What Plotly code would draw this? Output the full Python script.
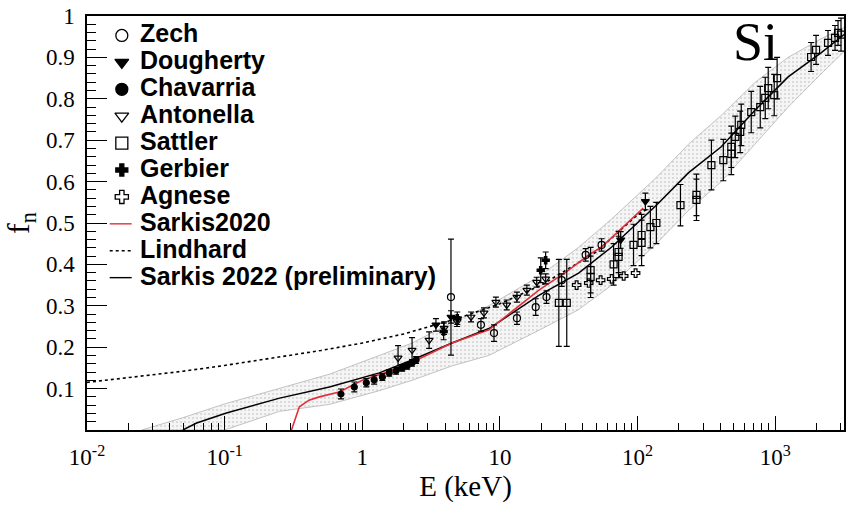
import plotly.graph_objects as go

# ---------------- data ----------------
# Zech (open circles)
zech_E = [4.41, 7.28, 9.06, 13.3, 18.2, 21.8, 28.1, 42.0, 54.8]
zech_f = [0.321, 0.254, 0.234, 0.270, 0.297, 0.321, 0.362, 0.423, 0.447]
zech_err = [0.14, 0.015, 0.02, 0.015, 0.02, 0.015, 0.015, 0.015, 0.015]

# Dougherty (filled down triangles)
dough_E = [3.43, 4.41, 75.4, 114.0]
dough_f = [0.254, 0.273, 0.459, 0.552]
dough_err = [0.015, 0.015, 0.02, 0.02]

# Chavarria (filled circles)
chav_E = [0.70, 0.875, 1.07, 1.22, 1.40, 1.57, 1.76, 1.95, 2.12, 2.30, 2.46]
chav_f = [0.087, 0.104, 0.114, 0.121, 0.128, 0.138, 0.143, 0.150, 0.155, 0.162, 0.169]
chav_err = [0.012, 0.012, 0.010, 0.010, 0.008, 0.008, 0.008, 0.008, 0.008, 0.008, 0.008]

# Antonella (open down triangles)
anto_E = [1.82, 2.30, 3.06, 3.93, 4.88, 6.17, 7.66, 9.35, 11.2, 13.3, 15.7, 18.5, 21.5]
anto_f = [0.174, 0.193, 0.217, 0.246, 0.262, 0.273, 0.283, 0.309, 0.302, 0.321, 0.338, 0.357, 0.365]
anto_err = [0.03, 0.03, 0.02, 0.015, 0.012, 0.012, 0.012, 0.012, 0.012, 0.012, 0.012, 0.012, 0.012]

# Sattler (open squares)
satt_E = [26.8, 30.6, 45.6, 45.6, 67.0, 72.8, 72.8, 93.5, 107, 107, 124, 137, 205, 268, 268,
          344, 420, 480, 480, 513, 557, 567, 670, 779, 847, 890, 984, 1033, 1823, 1982,
          2421, 2722, 2862, 3008]
satt_f = [0.307, 0.307, 0.386, 0.370, 0.400, 0.418, 0.430, 0.447, 0.452, 0.471, 0.490, 0.500,
          0.543, 0.568, 0.556, 0.640, 0.652, 0.684, 0.667, 0.708, 0.720, 0.737, 0.768, 0.780,
          0.802, 0.826, 0.809, 0.850, 0.901, 0.918, 0.935, 0.947, 0.959, 0.955]
satt_err = [0.105, 0.105, 0.055, 0.05, 0.05, 0.05, 0.05, 0.05, 0.055, 0.05, 0.05, 0.05,
            0.05, 0.05, 0.05, 0.06, 0.05, 0.05, 0.05, 0.05, 0.05, 0.05, 0.05, 0.05,
            0.05, 0.05, 0.05, 0.05, 0.035, 0.035, 0.03, 0.03, 0.03, 0.04]

# Gerbier (filled crosses)
gerb_E = [3.9, 4.9, 19.8, 21.5]
gerb_f = [0.238, 0.270, 0.386, 0.410]
gerb_err = [0.02, 0.015, 0.03, 0.02]

# Agnese (open crosses)
agn_E = [36.1, 44.2, 53.9, 64.9, 79.3, 96.8]
agn_f = [0.350, 0.355, 0.362, 0.365, 0.372, 0.379]

# Sarkis2020 model
s20_E = [0.306, 0.349, 0.41, 0.488, 0.68, 1.0, 1.95, 4.49, 8.32, 19.2, 31.6, 44.2, 54.8, 110]
s20_f = [0.0, 0.056, 0.072, 0.080, 0.092, 0.120, 0.152, 0.210, 0.242, 0.338, 0.386, 0.423, 0.442, 0.536]

# Lindhard model
lind_E = [0.01, 0.02, 0.05, 0.1, 0.2, 0.5, 1, 2, 5, 10, 20, 50, 100, 120]
lind_f = [0.115, 0.126, 0.142, 0.156, 0.172, 0.192, 0.210, 0.232, 0.270, 0.305, 0.350, 0.430, 0.520, 0.535]

# Sarkis 2022 (preliminary) model with its uncertainty band
s22_E = [0.0497, 0.0626, 0.103, 0.251, 0.577, 1.33, 2.3, 4.49, 8.32, 19.2, 37.3, 64.9, 137,
         234, 406, 716, 1242, 2153, 3300]
s22_f = [0.0, 0.017, 0.041, 0.077, 0.104, 0.138, 0.169, 0.210, 0.245, 0.325, 0.379, 0.442,
         0.543, 0.621, 0.684, 0.773, 0.853, 0.911, 0.960]
band_E = [0.025, 0.05, 0.1, 0.25, 0.58, 1.33, 2.3, 4.5, 8.3, 19, 37, 65, 137, 234, 406, 716,
          1242, 2153, 3300]
band_hi = [0.0, 0.03, 0.063, 0.10, 0.135, 0.18, 0.21, 0.26, 0.30, 0.37, 0.44, 0.51, 0.61, 0.69,
           0.76, 0.84, 0.90, 0.945, 0.975]
band_lo = [0.0, 0.0, 0.0, 0.045, 0.062, 0.095, 0.12, 0.155, 0.18, 0.24, 0.29, 0.35, 0.45, 0.53,
           0.60, 0.69, 0.78, 0.86, 0.92]

x_tickvals = [0.01, 0.1, 1, 10, 100, 1000]
x_ticktext = ["10<sup>-2</sup>", "10<sup>-1</sup>", "1", "10", "10<sup>2</sup>", "10<sup>3</sup>"]
y_tickvals = [0.1, 0.2, 0.3, 0.4, 0.5, 0.6, 0.7, 0.8, 0.9, 1.0]
y_ticktext = ["0.1", "0.2", "0.3", "0.4", "0.5", "0.6", "0.7", "0.8", "0.9", "1"]

# legend entries: (label, kind, style, key size)
legend_entries = [
    ("Zech", "marker", "circle-open", 12),
    ("Dougherty", "marker", "triangle-down", 12),
    ("Chavarria", "marker", "circle", 12),
    ("Antonella", "marker", "triangle-down-open", 12),
    ("Sattler", "marker", "square-open", 12),
    ("Gerbier", "marker", "cross", 10),
    ("Agnese", "marker", "cross-open", 11),
    ("Sarkis2020", "line", ("#e2303a", "solid"), 0),
    ("Lindhard", "line", ("black", "dot"), 0),
    ("Sarkis 2022 (preliminary)", "line", ("black", "solid"), 0),
]

# ---------------- figure ----------------
fig = go.Figure()

# uncertainty band of the 2022 model
fig.add_trace(go.Scatter(
    x=band_E + band_E[::-1], y=band_hi + band_lo[::-1],
    fill="toself", mode="lines",
    line=dict(color="#b4b4b4", width=0.8),
    fillcolor="#f3f3f3",
    fillpattern=dict(shape=".", fgcolor="#b0b0b0", bgcolor="#f5f5f5", size=4, solidity=0.2),
    showlegend=False, hoverinfo="skip"))

fig.add_trace(go.Scatter(x=lind_E, y=lind_f, mode="lines", showlegend=False,
                         line=dict(color="black", width=1.6, dash="dot")))
fig.add_trace(go.Scatter(x=s22_E, y=s22_f, mode="lines", showlegend=False,
                         line=dict(color="black", width=1.5)))
fig.add_trace(go.Scatter(x=s20_E, y=s20_f, mode="lines", showlegend=False,
                         line=dict(color="#e2303a", width=1.6)))


def points(E, f, err, symbol, size=7):
    kw = {}
    if err is not None:
        kw["error_y"] = dict(type="data", array=err, visible=True, color="black",
                             thickness=1.2, width=3)
    fig.add_trace(go.Scatter(
        x=E, y=f, mode="markers", showlegend=False,
        marker=dict(symbol=symbol, size=size, color="black",
                    line=dict(color="black", width=1.2)),
        **kw))


points(satt_E, satt_f, satt_err, "square-open")
points(agn_E, agn_f, None, "cross-open")
points(zech_E, zech_f, zech_err, "circle-open")
points(anto_E, anto_f, anto_err, "triangle-down-open")
points(chav_E, chav_f, chav_err, "circle", size=6)
points(dough_E, dough_f, dough_err, "triangle-down")
points(gerb_E, gerb_f, gerb_err, "cross", size=6)

# ---------------- legend box (drawn in a 0..1 overlay frame) ----------------
row_top, row_step = 0.958, 0.0650     # fraction of plot height per legend row
key_x, key_x0, key_x1, text_x = 0.046, 0.030, 0.059, 0.068
for i, (label, kind, style, ksize) in enumerate(legend_entries):
    yc = row_top - i * row_step
    if kind == "marker":
        fig.add_trace(go.Scatter(
            x=[key_x], y=[yc - 0.005], xaxis="x2", yaxis="y2", mode="markers",
            showlegend=False, hoverinfo="skip",
            marker=dict(symbol=style, size=ksize, color="black",
                        line=dict(color="black", width=1.3))))
    else:
        color, dash = style
        fig.add_trace(go.Scatter(
            x=[key_x0, key_x1], y=[yc - 0.005, yc - 0.005], xaxis="x2", yaxis="y2",
            mode="lines", showlegend=False, hoverinfo="skip",
            line=dict(color=color, width=1.4, dash=dash)))
    fig.add_annotation(x=text_x, y=yc, xref="paper", yref="paper", text=label,
                       showarrow=False, xanchor="left", yanchor="middle",
                       font=dict(family="Liberation Sans", size=25, color="black",
                                 weight="bold"))

# material label
fig.add_annotation(x=0.883, y=0.937, xref="paper", yref="paper", text="Si",
                   showarrow=False, xanchor="center", yanchor="middle",
                   font=dict(family="Liberation Serif", size=54, color="black"))

x_minor = [m * 10 ** d for d in range(-2, 4) for m in range(2, 10)]

fig.update_xaxes(
    type="log", range=[-2, 3.5],
    tickmode="array", tickvals=x_tickvals, ticktext=x_ticktext,
    ticks="inside", ticklen=14, tickwidth=1.2, tickcolor="black",
    minor=dict(tickmode="array", tickvals=x_minor, ticks="inside", ticklen=7,
               tickwidth=1, tickcolor="black", showgrid=False),
    showline=True, linecolor="black", linewidth=1.5, mirror=True,
    showgrid=False, zeroline=False, ticklabelstandoff=6,
    tickfont=dict(family="Liberation Serif", size=23, color="black"),
    title=dict(text="E (keV)", standoff=6,
               font=dict(family="Liberation Serif", size=29, color="black")))

fig.update_yaxes(
    range=[0, 1],
    tickmode="array", tickvals=y_tickvals, ticktext=y_ticktext,
    ticks="inside", ticklen=20, tickwidth=1.2, tickcolor="black",
    minor=dict(tickmode="linear", tick0=0, dtick=0.02, ticks="inside", ticklen=9,
               tickwidth=1, tickcolor="black", showgrid=False),
    showline=True, linecolor="black", linewidth=1.5, mirror=True,
    showgrid=False, zeroline=False, ticklabelstandoff=6,
    tickfont=dict(family="Liberation Serif", size=23, color="black"),
    title=dict(text="f<sub>n</sub>", standoff=10,
               font=dict(family="Liberation Serif", size=32, color="black")))

fig.update_layout(
    width=849, height=506,
    margin=dict(l=87, r=3, t=16, b=76),
    paper_bgcolor="white", plot_bgcolor="white",
    showlegend=False,
    xaxis2=dict(overlaying="x", range=[0, 1], visible=False, fixedrange=True),
    yaxis2=dict(overlaying="y", range=[0, 1], visible=False, fixedrange=True),
)

fig.write_html("out.html")
